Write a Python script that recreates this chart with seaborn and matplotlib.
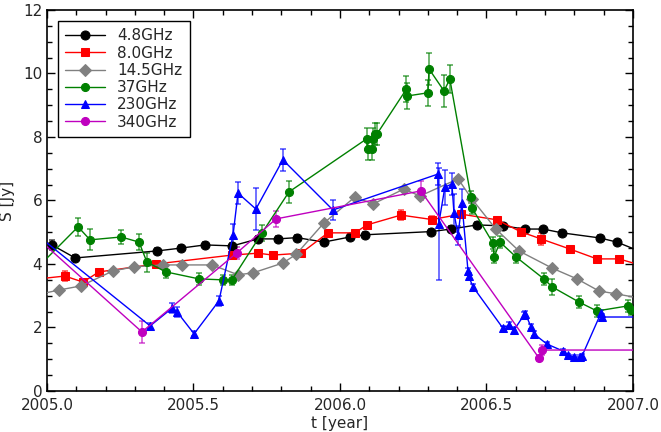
import matplotlib
matplotlib.use('Agg')

import numpy as np
import pandas as pd
import matplotlib.pyplot as plt
import seaborn as sns

# light curves (points just outside 2005-2007 keep the edge lines)
t_48 = [2004.98, 2005.017, 2005.096, 2005.375, 2005.457, 2005.539, 2005.633, 2005.720, 2005.788,
        2005.853, 2005.945, 2006.034, 2006.087, 2006.311, 2006.379, 2006.468, 2006.556, 2006.631,
        2006.693, 2006.758, 2006.887, 2006.945, 2007.05]
s_48 = [4.72, 4.60, 4.19, 4.41, 4.50, 4.60, 4.57, 4.79, 4.79,
        4.83, 4.69, 4.85, 4.92, 5.02, 5.10, 5.23, 5.20, 5.10,
        5.10, 4.98, 4.82, 4.69, 4.30]
e_48 = [0.1, 0.15, 0.08, 0.08, 0.1, 0.08, 0.1, 0.08, 0.08,
        0.08, 0.08, 0.08, 0.08, 0.08, 0.1, 0.08, 0.08, 0.08,
        0.08, 0.08, 0.08, 0.08, 0.1]

t_80 = [2004.98, 2005.061, 2005.123, 2005.177, 2005.372, 2005.631, 2005.720, 2005.771, 2005.867,
        2005.959, 2006.051, 2006.092, 2006.208, 2006.314, 2006.413, 2006.536, 2006.618, 2006.686,
        2006.785, 2006.877, 2006.952, 2007.05]
s_80 = [3.54, 3.62, 3.43, 3.75, 4.00, 4.28, 4.34, 4.28, 4.34,
        4.98, 4.98, 5.23, 5.54, 5.40, 5.57, 5.39, 5.01, 4.79,
        4.47, 4.16, 4.16, 3.90]
e_80 = [0.1, 0.15, 0.08, 0.1, 0.08, 0.12, 0.08, 0.08, 0.08,
        0.08, 0.08, 0.1, 0.15, 0.1, 0.1, 0.1, 0.12, 0.2,
        0.08, 0.1, 0.1, 0.1]

t_145 = [2004.98, 2005.041, 2005.116, 2005.225, 2005.297, 2005.396, 2005.461, 2005.563, 2005.652,
         2005.703, 2005.805, 2005.850, 2005.945, 2006.051, 2006.113, 2006.218, 2006.273, 2006.403,
         2006.450, 2006.532, 2006.611, 2006.724, 2006.809, 2006.884, 2006.942, 2007.05]
s_145 = [3.06, 3.18, 3.31, 3.78, 3.91, 3.97, 3.97, 3.97, 3.66,
         3.72, 4.03, 4.30, 5.29, 6.11, 5.89, 6.36, 6.14, 6.68,
         6.05, 5.10, 4.41, 3.87, 3.53, 3.15, 3.06, 2.88]
e_145 = [0.05] * len(t_145)

t_37 = [2004.98, 2005.106, 2005.147, 2005.253, 2005.314, 2005.341, 2005.406, 2005.519, 2005.601,
        2005.631, 2005.734, 2005.826, 2006.091, 2006.094, 2006.110, 2006.114, 2006.120, 2006.126,
        2006.227, 2006.229, 2006.300, 2006.304, 2006.355, 2006.375, 2006.447, 2006.451, 2006.522,
        2006.526, 2006.546, 2006.601, 2006.696, 2006.724, 2006.816, 2006.877, 2006.983, 2006.993]
s_37 = [4.00, 5.17, 4.76, 4.85, 4.69, 4.06, 3.75, 3.53, 3.50,
        3.50, 4.98, 6.27, 7.94, 7.62, 7.62, 7.94, 8.09, 8.09,
        9.51, 9.29, 9.39, 10.14, 9.45, 9.82, 6.11, 5.76, 4.66,
        4.22, 4.69, 4.22, 3.53, 3.28, 2.80, 2.52, 2.68, 2.55]
e_37 = [0.2, 0.28, 0.33, 0.22, 0.25, 0.3, 0.2, 0.2, 0.15,
        0.15, 0.25, 0.35, 0.35, 0.35, 0.35, 0.35, 0.35, 0.35,
        0.4, 0.4, 0.4, 0.5, 0.5, 0.45, 0.2, 0.2, 0.2,
        0.2, 0.2, 0.2, 0.2, 0.25, 0.2, 0.2, 0.2, 0.15]

t_230 = [2004.98, 2005.352, 2005.427, 2005.444, 2005.502, 2005.587, 2005.635, 2005.652, 2005.713,
         2005.805, 2005.976, 2006.334, 2006.337, 2006.358, 2006.382, 2006.389, 2006.403, 2006.416,
         2006.437, 2006.439, 2006.454, 2006.556, 2006.577, 2006.594, 2006.628, 2006.633, 2006.652,
         2006.662, 2006.706, 2006.761, 2006.778, 2006.799, 2006.819, 2006.826, 2006.891, 2006.894,
         2007.05]
s_230 = [4.81, 2.05, 2.61, 2.49, 1.80, 2.84, 4.91, 6.23, 5.73,
         7.28, 5.70, 6.83, 5.26, 6.42, 6.52, 5.61, 4.91, 5.92,
         3.78, 3.62, 3.28, 1.98, 2.08, 1.92, 2.39, 2.43, 2.02,
         1.80, 1.48, 1.26, 1.13, 1.07, 1.07, 1.10, 2.46, 2.33,
         2.33]
e_230 = [0.1, 0.1, 0.15, 0.15, 0.08, 0.15, 0.35, 0.35, 0.65,
         0.35, 0.3, 0.35, 1.75, 0.55, 0.35, 0.6, 0.3, 0.45,
         0.1, 0.1, 0.1, 0.08, 0.1, 0.08, 0.1, 0.1, 0.08,
         0.08, 0.05, 0.05, 0.05, 0.05, 0.05, 0.05, 0.1, 0.08,
         0.05]

t_340 = [2004.98, 2005.324, 2005.648, 2005.782, 2006.276, 2006.679, 2006.689, 2007.05]
s_340 = [4.71, 1.86, 4.35, 5.42, 6.30, 1.04, 1.29, 1.29]
e_340 = [0.2, 0.35, 0.2, 0.25, 0.3, 0.08, 0.15, 0.05]

bands = [
    ('4.8GHz', t_48, s_48, e_48, 'black', 'o', 6.5),
    ('8.0GHz', t_80, s_80, e_80, 'red', 's', 6.2),
    ('14.5GHz', t_145, s_145, e_145, 'gray', 'D', 5.8),
    ('37GHz', t_37, s_37, e_37, 'green', 'o', 5.8),
    ('230GHz', t_230, s_230, e_230, 'blue', '^', 6.2),
    ('340GHz', t_340, s_340, e_340, 'm', 'o', 5.8),
]

sns.set_style('ticks')
plt.rcParams['font.family'] = ['DejaVu Sans']
plt.rcParams['xtick.direction'] = 'in'
plt.rcParams['ytick.direction'] = 'in'

fig = plt.figure(figsize=(6.61, 4.32), dpi=100)
ax = fig.add_axes([0.0711, 0.0949, 0.8865, 0.8821])

for name, t, s, e, col, mk, ms in bands:
    df = pd.DataFrame({'t': t, 'S': s, 'err': e})
    ax.errorbar(df['t'], df['S'], yerr=df['err'], fmt='none', ecolor=col, alpha=0.65,
                elinewidth=1.2, capsize=2.5, capthick=1.2, zorder=2)
    sns.lineplot(data=df, x='t', y='S', ax=ax, color=col, marker=mk, markersize=ms,
                 markeredgecolor=col, linewidth=1.0, estimator=None, sort=False,
                 label=name, zorder=3)

ax.set_xlim(2005.0, 2007.0)
ax.set_ylim(0, 12)
ax.set_xticks(np.arange(2005.0, 2007.01, 0.5))
ax.set_xticklabels(['2005.0', '2005.5', '2006.0', '2006.5', '2007.0'])
ax.set_xticks(np.arange(2005.0, 2007.01, 0.1), minor=True)
ax.set_yticks(np.arange(0, 12.1, 2))
ax.set_yticks(np.arange(0, 12.1, 0.5), minor=True)
ax.tick_params(which='both', top=True, right=True, labelsize=11, width=1, color='black')
ax.tick_params(axis='x', which='major', pad=5)
ax.tick_params(which='major', length=6)
ax.tick_params(which='minor', length=3.5)
for sp in ax.spines.values():
    sp.set_linewidth(1.2)
    sp.set_color('black')

ax.set_xlabel('t [year]', fontsize=11, labelpad=2)
ax.set_ylabel('S [Jy]', fontsize=11, labelpad=6)

leg = ax.legend(loc='upper left', fontsize=11, fancybox=False, edgecolor='black',
                framealpha=1, handlelength=2.6, borderpad=0.5, labelspacing=0.15,
                borderaxespad=0.7)
leg.get_frame().set_linewidth(1.0)

fig.savefig('out.png', dpi=100)
